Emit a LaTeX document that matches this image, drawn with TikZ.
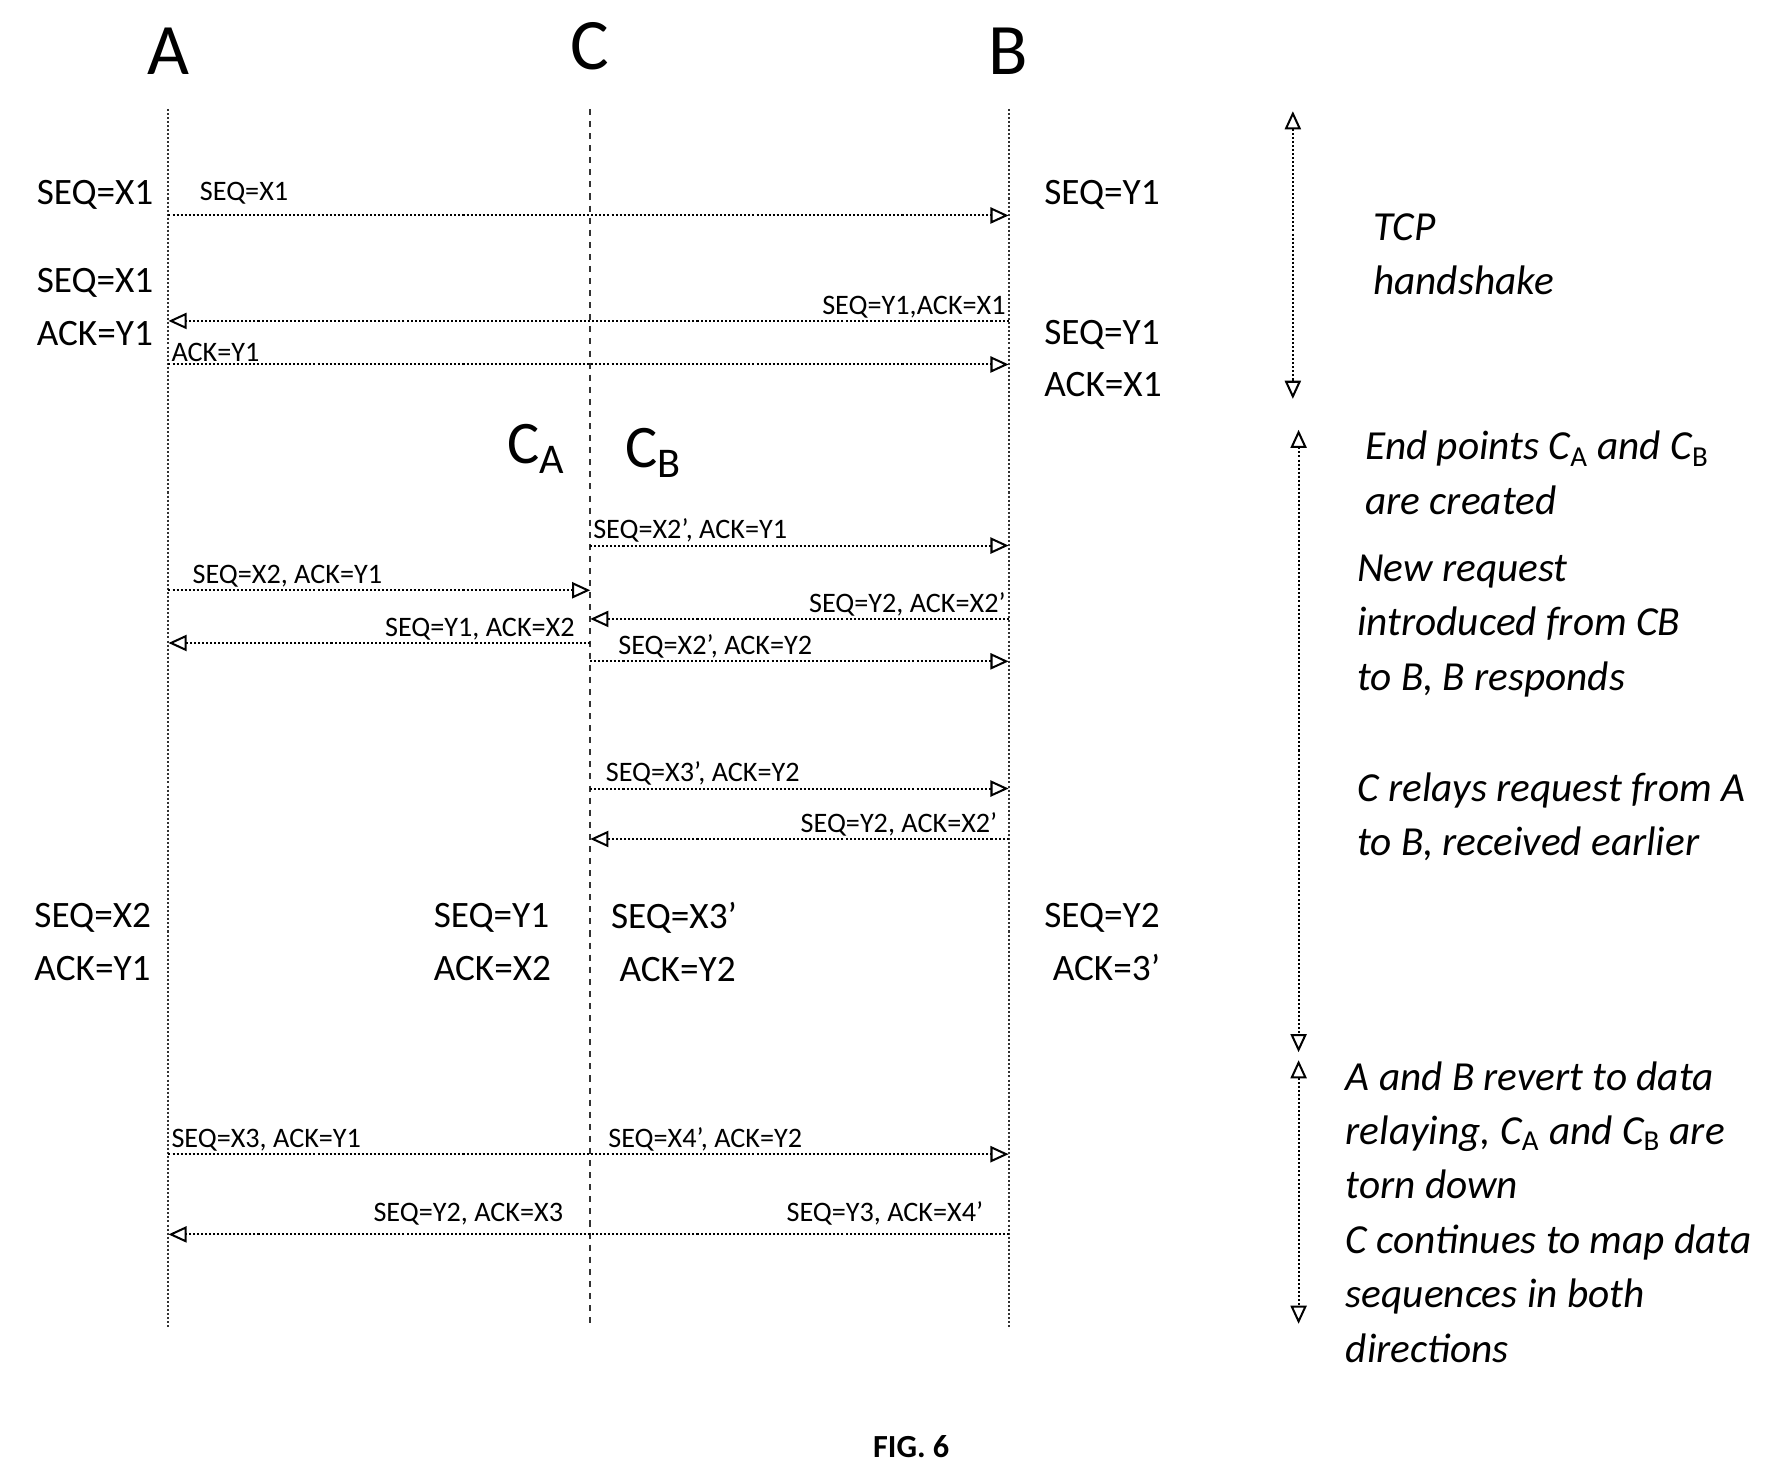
\documentclass[tikz,border=0pt]{standalone}
\usepackage{fontspec}
\setmainfont{Carlito}
\usetikzlibrary{arrows.meta, positioning}

\begin{document}
\begin{tikzpicture}[x=0.02cm, y=-0.02cm, >={Triangle[open,length=9pt,width=8pt]},
    life/.style={densely dotted, black!80, line width=1pt},
    msg/.style={->, densely dotted, line width=1pt},
    big/.style={font=\fontsize{18.5}{22}\selectfont},
    small/.style={font=\fontsize{14}{16}\selectfont, inner sep=1pt},
    head/.style={font=\fontsize{36}{40}\selectfont},
    note/.style={font=\fontsize{20.5}{27}\selectfont\itshape, align=left, anchor=north west},
    span/.style={<->, densely dotted, line width=1pt}]
    \useasboundingbox (0,0) rectangle (1560,1284);
    % lifelines
    \node[head] (A) at (147,45) {A};
    \node[head] (C) at (515,40) {C};
    \node[head] (B) at (880,45) {B};
    \coordinate (As) at (147,95);  \coordinate (Ae) at (147,1158);
    \coordinate (Cs) at (515,95);  \coordinate (Ce) at (515,1158);
    \coordinate (Bs) at (880,95);  \coordinate (Be) at (880,1158);
    \draw[life] (As) -- (Ae);
    \draw[dashed, black!80, line width=1pt] (Cs) -- (Ce);
    \draw[life] (Bs) -- (Be);

    % handshake
    \draw[msg] (As |- 0,188) -- (Bs |- 0,188) node[small, pos=0.09, above=4pt] {SEQ=X1};
    \draw[msg] (Bs |- 0,280) -- (As |- 0,280) node[small, pos=0, above left] {SEQ=Y1,ACK=X1};
    \draw[msg] (As |- 0,318) -- (Bs |- 0,318) node[small, pos=0, above right] {ACK=Y1};
    \node[big, left] at (140,170) {SEQ=X1};
    \node[big, left, align=left] at (140,268) {SEQ=X1\\[4pt]ACK=Y1};
    \node[big, right] at (905,170) {SEQ=Y1};
    \node[big, right, align=left] at (905,313) {SEQ=Y1\\[4pt]ACK=X1};

    % split endpoints
    \node[head, font=\fontsize{30}{34}\selectfont] (CA) at (468,392) {C$_\mathrm{A}$};
    \node[head, font=\fontsize{30}{34}\selectfont] (CB) at (570,395) {C$_\mathrm{B}$};
    \draw[msg] (Cs |- 0,476) -- (Bs |- 0,476) node[small, pos=0, above right] {SEQ=X2', ACK=Y1};
    \draw[msg] (As |- 0,515) -- (Cs |- 0,515) node[small, pos=0.05, above right] {SEQ=X2, ACK=Y1};
    \draw[msg] (Bs |- 0,540) -- (Cs |- 0,540) node[small, pos=0, above left] {SEQ=Y2, ACK=X2'};
    \draw[msg] (Cs |- 0,561) -- (As |- 0,561) node[small, pos=0.03, above left] {SEQ=Y1, ACK=X2};
    \draw[msg] (Cs |- 0,577) -- (Bs |- 0,577) node[small, pos=0.06, above right] {SEQ=X2', ACK=Y2};
    \draw[msg] (Cs |- 0,688) -- (Bs |- 0,688) node[small, pos=0.03, above right] {SEQ=X3', ACK=Y2};
    \draw[msg] (Bs |- 0,732) -- (Cs |- 0,732) node[small, pos=0.02, above left] {SEQ=Y2, ACK=X2'};
    \node[big, left, align=left] at (138,822) {SEQ=X2\\[4pt]ACK=Y1};
    \node[big, left, align=left] at (487,822) {SEQ=Y1\\[4pt]ACK=X2};
    \node[big, right, align=left] at (527,822) {SEQ=X3'\\[4pt]\ ACK=Y2};
    \node[big, right, align=left] at (905,822) {SEQ=Y2\\[4pt]\ ACK=3'};

    % data relaying
    \draw[msg] (As |- 0,1007) -- (Bs |- 0,1007)
        node[small, pos=0, above right] {SEQ=X3, ACK=Y1}
        node[small, pos=0.52, above right] {SEQ=X4', ACK=Y2};
    \draw[msg] (Bs |- 0,1077) -- (As |- 0,1077)
        node[small, pos=0.02, above left=4pt] {SEQ=Y3, ACK=X4'}
        node[small, pos=0.52, above left=4pt] {SEQ=Y2, ACK=X3};

    % phases
    \coordinate (p1) at (1128,97);  \coordinate (p2) at (1128,348);
    \coordinate (p3) at (1133,375); \coordinate (p4) at (1133,918);
    \coordinate (p5) at (1133,925); \coordinate (p6) at (1133,1155);
    \draw[span] (p1) -- (p2);
    \draw[span] (p3) -- (p4);
    \draw[span] (p5) -- (p6);
    \node[note] (n1) at (1192,180) {TCP\\handshake};
    \node[note] (n2) at (1185,370) {End points C$_\mathrm{A}$ and C$_\mathrm{B}$\\are created};
    \node[note] (n3) at (1178,478) {New request\\introduced from CB\\to B, B responds};
    \node[note] (n4) at (1178,668) {C relays request from A\\to B, received earlier};
    \node[note] (n5) at (1168,920) {A and B revert to data\\relaying, C$_\mathrm{A}$ and C$_\mathrm{B}$ are\\torn down\\C continues to map data\\sequences in both\\directions};
    \node[font=\bfseries\fontsize{16}{18}\selectfont] (fig) at (795,1262) {FIG. 6};
\end{tikzpicture}
\end{document}
